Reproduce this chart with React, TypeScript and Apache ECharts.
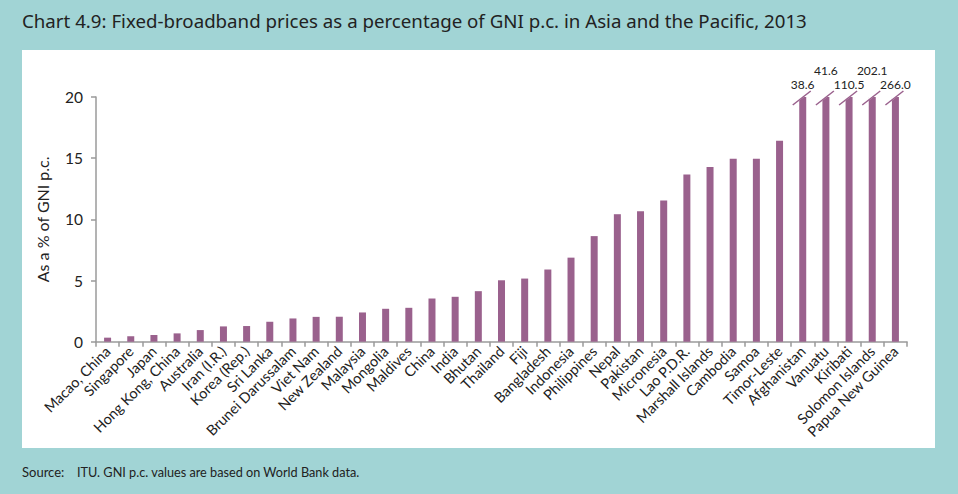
import React, { useEffect, useRef } from "react";
import * as echarts from "echarts";

const categories: string[] = [
  "Macao, China", "Singapore", "Japan", "Hong Kong, China", "Australia", "Iran (I.R.)",
  "Korea (Rep.)", "Sri Lanka", "Brunei Darussalam", "Viet Nam", "New Zealand", "Malaysia",
  "Mongolia", "Maldives", "China", "India", "Bhutan", "Thailand", "Fiji", "Bangladesh",
  "Indonesia", "Philippines", "Nepal", "Pakistan", "Micronesia", "Lao P.D.R.",
  "Marshall Islands", "Cambodia", "Samoa", "Timor-Leste", "Afghanistan", "Vanuatu",
  "Kiribati", "Solomon Islands", "Papua New Guinea",
];

const values: number[] = [
  0.33, 0.45, 0.55, 0.68, 0.95, 1.25, 1.28, 1.63, 1.9, 2.03, 2.04, 2.39,
  2.69, 2.77, 3.53, 3.67, 4.13, 5.02, 5.16, 5.9, 6.87, 8.63, 10.42, 10.67,
  11.54, 13.66, 14.28, 14.96, 14.96, 16.42, 38.6, 41.6, 110.5, 202.1, 266.0,
];

const yTicks: number[] = [0, 5, 10, 15, 20];

const TITLE = "Chart 4.9: Fixed-broadband prices as a percentage of GNI p.c. in Asia and the Pacific, 2013";
const SOURCE_LABEL = "Source:";
const SOURCE_TEXT = "ITU. GNI p.c. values are based on World Bank data.";

const BAR = "#9a618d";
const TEAL = "#a1d4d5";
const AXIS = "#9a9a9a";
const TXT = "#222222";
const LABEL_FONT = "Lato";

export default function App() {
  const ref = useRef<HTMLDivElement>(null);
  useEffect(() => {
    if (!ref.current) return;
    const chart = echarts.init(ref.current, undefined, { renderer: "svg" });
    const yMax = yTicks[yTicks.length - 1];
    const capped = values
      .map((v, i) => ({ v, i }))
      .filter((d) => d.v > yMax);
    chart.setOption({
      animation: false,
      backgroundColor: TEAL,
      graphic: [
        {
          type: "rect",
          z: -10,
          silent: true,
          shape: { x: 22, y: 50, width: 913, height: 398 },
          style: { fill: "#ffffff" },
        },
        {
          type: "text",
          left: 22,
          top: 11,
          style: { text: TITLE, fill: TXT, font: "18.7px 'Noto Sans'" },
        },
        {
          type: "text",
          left: 22,
          top: 465,
          style: { text: SOURCE_LABEL, fill: TXT, font: "13px " + LABEL_FONT },
        },
        {
          type: "text",
          left: 77,
          top: 465,
          style: { text: SOURCE_TEXT, fill: TXT, font: "12.7px " + LABEL_FONT },
        },
      ],
      grid: { left: 96, right: 51, top: 97, bottom: 152.3, containLabel: false },
      xAxis: {
        type: "category",
        data: categories,
        axisLine: { lineStyle: { color: AXIS, width: 1.5 } },
        axisTick: { show: true, length: 5, lineStyle: { color: AXIS, width: 1.5 } },
        axisLabel: {
          interval: 0,
          rotate: 45,
          fontSize: 14.5,
          fontFamily: LABEL_FONT,
          color: TXT,
          margin: 7,
        },
      },
      yAxis: {
        type: "value",
        min: 0,
        max: yMax,
        interval: 5,
        name: "As a % of GNI p.c.",
        nameLocation: "middle",
        nameGap: 46,
        nameTextStyle: { fontSize: 16, fontFamily: LABEL_FONT, color: TXT },
        splitLine: { show: false },
        axisLine: { show: true, lineStyle: { color: AXIS, width: 1.5 } },
        axisTick: { show: true, length: 5, lineStyle: { color: AXIS, width: 1.5 } },
        axisLabel: { fontSize: 15.5, fontFamily: LABEL_FONT, color: TXT, margin: 13 },
      },
      series: [
        {
          type: "bar",
          data: values.map((v) => Math.min(v, yMax)),
          barWidth: 7,
          itemStyle: { color: BAR },
          z: 2,
        },
        {
          type: "custom",
          z: 5,
          data: capped.map((d) => [d.i, yMax, d.v]),
          renderItem: (params: any, api: any) => {
            const idx = api.value(0);
            const top = api.coord([idx, api.value(1)]);
            const real = api.value(2);
            const k = params.dataIndex;
            const labelY = k % 2 === 0 ? top[1] - 13 : top[1] - 27;
            return {
              type: "group",
              children: [
                {
                  type: "polygon",
                  shape: {
                    points: [
                      [top[0] - 4, top[1] + 4],
                      [top[0] + 5, top[1] - 3],
                      [top[0] + 5, top[1] - 12],
                      [top[0] - 4, top[1] - 12],
                    ],
                  },
                  style: { fill: "#ffffff" },
                },
                {
                  type: "line",
                  shape: { x1: top[0] - 10, y1: top[1] + 8, x2: top[0] + 8, y2: top[1] - 6 },
                  style: { stroke: BAR, lineWidth: 1.5 },
                },
                {
                  type: "text",
                  x: top[0],
                  y: labelY,
                  style: {
                    text: real.toFixed(1),
                    fill: TXT,
                    font: "12px " + LABEL_FONT,
                    align: "center",
                    verticalAlign: "middle",
                  },
                },
              ],
            };
          },
        },
      ],
    });
    return () => chart.dispose();
  }, []);
  return (
    <div
      ref={ref}
      style={{ position: "fixed", left: 0, top: 0, width: 958, height: 494 }}
    />
  );
}
